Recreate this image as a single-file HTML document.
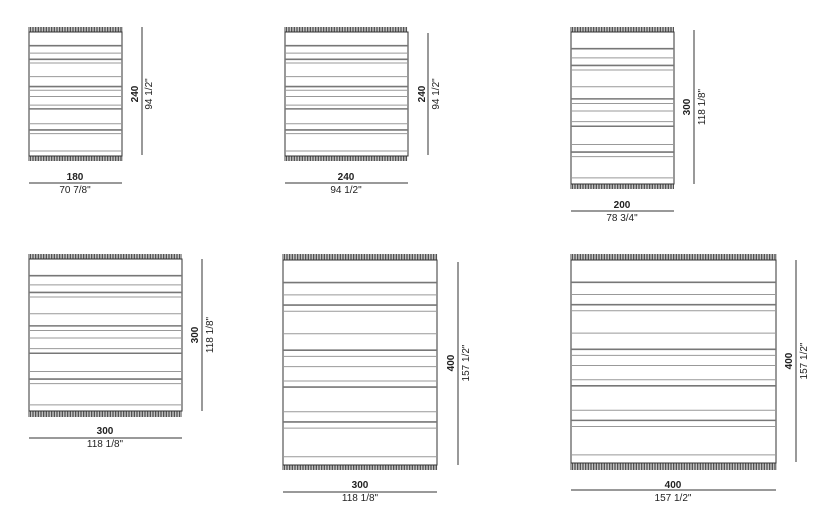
<!DOCTYPE html>
<html><head><meta charset="utf-8"><style>
html,body{margin:0;padding:0;background:#fff;}
svg{display:block;}
text{font-family:"Liberation Sans",sans-serif;font-size:10px;fill:#222;}
.b{font-weight:bold;}
</style></head><body>
<svg id="s" width="825" height="520" viewBox="0 0 825 520" xmlns="http://www.w3.org/2000/svg">
<g id="g"></g>
<!-- rug 1 -->
<text class="b" x="75" y="180" text-anchor="middle">180</text>
<text x="75" y="193" text-anchor="middle">70 7/8"</text>
<text class="b" transform="translate(138,94) rotate(-90)" text-anchor="middle">240</text>
<text transform="translate(152,94) rotate(-90)" text-anchor="middle">94 1/2"</text>
<!-- rug 2 -->
<text class="b" x="346" y="180" text-anchor="middle">240</text>
<text x="346" y="193" text-anchor="middle">94 1/2"</text>
<text class="b" transform="translate(425,94) rotate(-90)" text-anchor="middle">240</text>
<text transform="translate(439,94) rotate(-90)" text-anchor="middle">94 1/2"</text>
<!-- rug 3 -->
<text class="b" x="622" y="208" text-anchor="middle">200</text>
<text x="622" y="221" text-anchor="middle">78 3/4"</text>
<text class="b" transform="translate(690,107) rotate(-90)" text-anchor="middle">300</text>
<text transform="translate(705,107) rotate(-90)" text-anchor="middle">118 1/8"</text>
<!-- rug 4 -->
<text class="b" x="105" y="434" text-anchor="middle">300</text>
<text x="105" y="447" text-anchor="middle">118 1/8"</text>
<text class="b" transform="translate(198,335) rotate(-90)" text-anchor="middle">300</text>
<text transform="translate(213,335) rotate(-90)" text-anchor="middle">118 1/8"</text>
<!-- rug 5 -->
<text class="b" x="360" y="488" text-anchor="middle">300</text>
<text x="360" y="501" text-anchor="middle">118 1/8"</text>
<text class="b" transform="translate(454,363) rotate(-90)" text-anchor="middle">400</text>
<text transform="translate(469,363) rotate(-90)" text-anchor="middle">157 1/2"</text>
<!-- rug 6 -->
<text class="b" x="673" y="488" text-anchor="middle">400</text>
<text x="673" y="501" text-anchor="middle">157 1/2"</text>
<text class="b" transform="translate(792,361) rotate(-90)" text-anchor="middle">400</text>
<text transform="translate(807,361) rotate(-90)" text-anchor="middle">157 1/2"</text>
</svg>
<script>
(function(){
var g=document.getElementById('g'),NS='http://www.w3.org/2000/svg',h='';
var stripes=[[.11,1],[.17,0],[.22,1],[.25,0],[.36,0],[.44,1],[.47,0],[.52,0],[.59,0],[.62,1],[.74,0],[.79,1],[.82,0],[.96,0]];
function rug(x1,x2,ft,rt,rb,fb,vx,vy1,vy2,hy){
  // fringes
  for(var x=x1;x<=x2;x+=1.6){
    h+='<line x1="'+x+'" y1="'+ft+'" x2="'+x+'" y2="'+rt+'" stroke="#333" stroke-width="0.9"/>';
    h+='<line x1="'+x+'" y1="'+rb+'" x2="'+x+'" y2="'+fb+'" stroke="#333" stroke-width="0.9"/>';
  }
  h+='<rect x="'+x1+'" y="'+rt+'" width="'+(x2-x1)+'" height="'+(rb-rt)+'" fill="#fff" stroke="#333" stroke-width="1"/>';
  var H=rb-rt;
  stripes.forEach(function(s){
    var y=rt+s[0]*H;
    h+='<line x1="'+x1+'" y1="'+y+'" x2="'+x2+'" y2="'+y+'" stroke="'+(s[1]?'#777':'#999')+'" stroke-width="'+(s[1]?1.6:1)+'"/>';
  });
  h+='<line x1="'+vx+'" y1="'+vy1+'" x2="'+vx+'" y2="'+vy2+'" stroke="#333" stroke-width="1"/>';
  h+='<line x1="'+x1+'" y1="'+hy+'" x2="'+x2+'" y2="'+hy+'" stroke="#333" stroke-width="1"/>';
}
rug(29,122,27,32,156,161,142,27,155,183);
rug(285,408,27,32,156,161,428,33,155,183);
rug(571,674,27,32,184,189,694,30,184,211);
rug(29,182,254,259,411,417,202,259,411,438);
rug(283,437,254,260,465,470,458,262,465,492);
rug(571,776,254,260,463,470,796,260,462,490);
g.innerHTML=h;
})();
</script>
</body></html>
